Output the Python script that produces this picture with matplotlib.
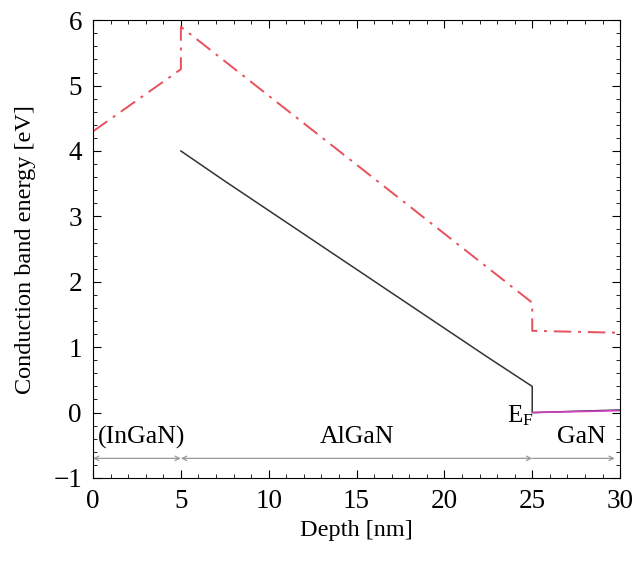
import matplotlib
matplotlib.use("Agg")
import matplotlib.pyplot as plt
from matplotlib.ticker import MultipleLocator

# Data
red_x = [0, 5, 5, 25, 25, 30]
red_y = [4.3, 5.25, 5.9, 1.68, 1.25, 1.22]

black_x = [5, 7.5, 10, 12.5, 15, 17.5, 20, 22.5, 25, 25, 30]
black_y = [4.0, 3.54, 3.09, 2.64, 2.19, 1.74, 1.29, 0.84, 0.4, 0.0, 0.04]

ef_x = [25, 30]
ef_y = [0.0, 0.03]

regions = ["(InGaN)", "AlGaN", "GaN"]
region_bounds = [(0, 5), (5, 25), (25, 29.7)]
region_label_x = [2.75, 15, 27.8]

plt.rcParams['font.family'] = ['Liberation Serif', 'DejaVu Serif']
plt.rcParams['mathtext.fontset'] = 'stix'

fig = plt.figure(figsize=(6.35, 5.61), dpi=100)
ax = fig.add_axes([0.1465, 0.148, 0.83, 0.816])

ax.plot(red_x, red_y, color='#e8505b', lw=1.4, linestyle=(0, (9, 3.5, 1.5, 3.5)))
ax.plot(black_x, black_y, color='#333333', lw=1.1)
ax.plot(ef_x, ef_y, color='#d040c0', lw=1.2)

for (a, b) in region_bounds:
    style = '<->' if b < 29 else '<-'
    ax.annotate('', xy=(a, -0.7), xytext=(b, -0.7),
                arrowprops=dict(arrowstyle=style, color='#999999', lw=0.9,
                                shrinkA=0, shrinkB=0, mutation_scale=8))

for lab, x in zip(regions, region_label_x):
    ax.text(x, -0.38, lab, ha='center', va='center', fontsize=18.5)

ax.text(24.3, -0.05, r'E$_\mathregular{F}$', ha='center', va='center', fontsize=18)

ax.set_xlim(0, 30)
ax.set_ylim(-1, 6)
ax.xaxis.set_major_locator(MultipleLocator(5))
ax.xaxis.set_minor_locator(MultipleLocator(1))
ax.yaxis.set_major_locator(MultipleLocator(1))
ax.yaxis.set_minor_locator(MultipleLocator(0.2))
ax.tick_params(which='both', direction='in', top=True, right=True, labelsize=19.5)
ax.tick_params(which='major', length=6, pad=8)
ax.tick_params(which='minor', length=3)
ax.set_xlabel('Depth [nm]', fontsize=17.5, labelpad=4)
ax.set_ylabel('Conduction band energy [eV]', fontsize=17.5, labelpad=12)

fig.savefig('out.png', dpi=100)
